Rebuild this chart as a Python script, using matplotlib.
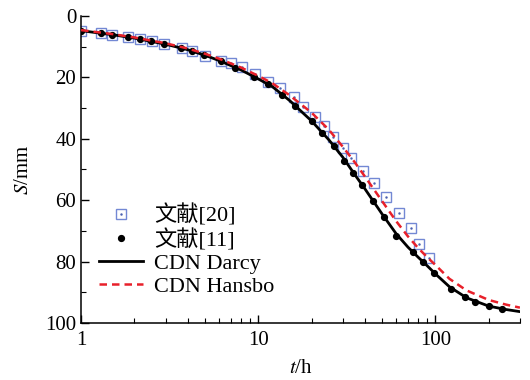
import matplotlib
matplotlib.use('Agg')
import matplotlib.pyplot as plt
from matplotlib.ticker import MultipleLocator, FixedLocator, NullFormatter

plt.rcParams['font.family'] = ['Liberation Serif', 'Noto Sans CJK SC']
plt.rcParams['mathtext.fontset'] = 'stix'

# ref [20] (blue squares)
t_ref20 = [1.0, 1.3, 1.5, 1.83, 2.14, 2.5, 2.95, 3.7, 4.2, 5.0, 6.2, 7.0, 8.07, 9.63,
           11.4, 13.2, 15.9, 17.8, 20.9, 23.5, 26.3, 30.0, 33.6, 38.9, 45.2, 52.8,
           62.0, 72.6, 80.4, 92.0]
s_ref20 = [4.9, 5.6, 6.1, 6.8, 7.5, 8.1, 9.1, 10.5, 11.4, 12.9, 14.7, 15.2, 16.5, 19.0,
           21.4, 23.4, 26.5, 29.5, 32.8, 35.8, 39.3, 43.1, 46.4, 50.4, 54.3, 58.9,
           64.2, 69.2, 74.4, 78.7]

# ref [11] (black dots)
t_ref11 = [1.0, 1.3, 1.49, 1.83, 2.14, 2.49, 2.95, 3.68, 4.2, 4.95, 6.16, 7.41, 9.41,
           11.4, 13.6, 16.2, 20.1, 23.0, 26.6, 30.5, 34.1, 38.5, 44.5, 51.2, 60.1,
           74.6, 84.9, 98.3, 123, 146, 167, 200, 239]
s_ref11 = [4.9, 5.6, 6.1, 6.8, 7.5, 8.1, 9.1, 10.5, 11.4, 12.8, 14.7, 17.0, 19.8,
           22.2, 25.7, 29.3, 34.2, 38.1, 42.5, 47.3, 51.1, 55.2, 60.4, 65.5, 71.8,
           76.8, 80.2, 83.8, 88.8, 91.4, 93.1, 94.5, 95.4]

# CDN curves
t_curve = [1, 1.5, 2, 3, 4, 5, 6, 8, 10, 12, 15, 20, 25, 30, 35, 40, 50, 60, 70, 80,
           90, 100, 120, 150, 200, 250, 300]
s_darcy = [4.8, 6.1, 7.2, 9.2, 11.0, 12.8, 14.5, 17.6, 20.5, 23.0, 27.5, 34.2, 40.3,
           46.0, 51.6, 56.3, 64.5, 70.9, 75.3, 78.6, 81.4, 84.0, 88.2, 91.8, 94.5,
           95.6, 96.3]
s_hansbo = [4.6, 5.9, 7.0, 8.9, 10.6, 12.3, 13.9, 16.8, 19.5, 21.9, 25.8, 31.5, 37.0,
            42.6, 47.6, 52.3, 60.3, 66.8, 71.8, 75.6, 78.6, 81.1, 85.6, 89.4, 92.5,
            94.0, 95.0]

fig = plt.figure(figsize=(5.3, 3.8), dpi=100)
ax = fig.add_axes([0.153, 0.15, 0.828, 0.808])

sq, = ax.plot(t_ref20, s_ref20, ls='none', marker='s', ms=7, mfc='none',
              mec='#7388d4', mew=1.0, zorder=2)
sqd, = ax.plot(t_ref20, s_ref20, ls='none', marker='.', ms=1.5, color='#4a5fb0', zorder=2)
ld, = ax.plot(t_curve, s_darcy, color='black', lw=2.0, zorder=3)
dots, = ax.plot(t_ref11, s_ref11, ls='none', marker='o', ms=4.2, color='black', zorder=4)
lh, = ax.plot(t_curve, s_hansbo, color='#e8202a', lw=1.8, ls=(0, (3, 2)), zorder=5)

ax.set_xscale('log')
ax.set_xlim(1, 300)
ax.set_ylim(100, 0)
ax.yaxis.set_major_locator(MultipleLocator(20))
ax.yaxis.set_minor_locator(MultipleLocator(10))
ax.xaxis.set_major_locator(FixedLocator([1, 10, 100]))
ax.set_xticklabels(['1', '10', '100'])
ax.xaxis.set_minor_formatter(NullFormatter())

for s in ['top', 'right']:
    ax.spines[s].set_visible(False)
for s in ['left', 'bottom']:
    ax.spines[s].set_linewidth(1.1)
ax.tick_params(which='major', direction='in', length=6, width=1.0, labelsize=15)
ax.tick_params(which='minor', direction='in', length=3.5, width=0.8)
ax.tick_params(axis='x', pad=6)

ax.set_xlabel(r'$t$/h', fontsize=15, labelpad=6)
ax.set_ylabel(r'$S$/mm', fontsize=15, labelpad=9)

leg = ax.legend([(sq, sqd), dots, ld, lh],
                ['文献[20]', '文献[11]', 'CDN Darcy', 'CDN Hansbo'],
                loc='upper left', bbox_to_anchor=(0.02, 0.415), frameon=False,
                fontsize=16, handlelength=2.0, handletextpad=0.5,
                labelspacing=0.1, borderaxespad=0.0)

fig.savefig('out.png', dpi=100)
